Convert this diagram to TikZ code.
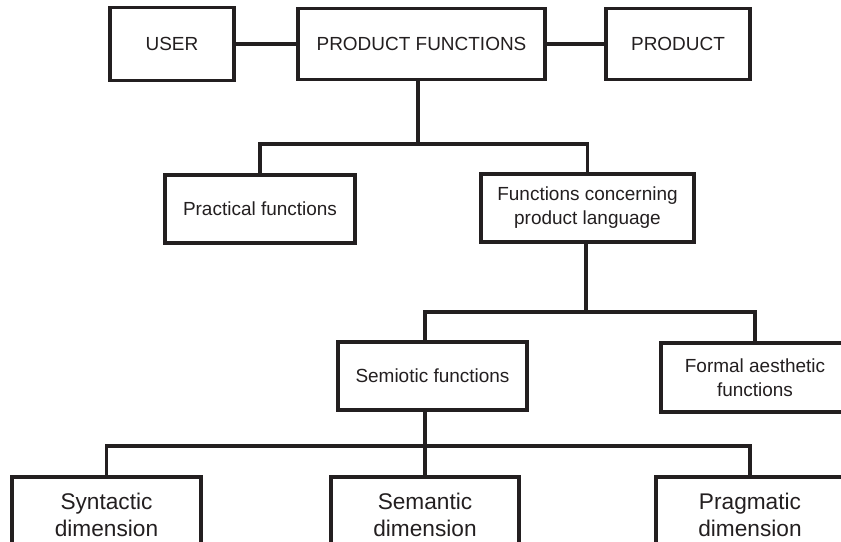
\documentclass[tikz,border=0pt]{standalone}
\usepackage{fontspec}
\setmainfont{Liberation Sans}
\usepackage{xcolor}
\usepackage{tikz}
\usetikzlibrary{positioning}

\definecolor{ink}{HTML}{231F20}

\begin{document}
\begin{tikzpicture}[
            x=0.02cm, y=-0.02cm,
            box/.style={rectangle, draw=ink, line width=1.75pt, text=ink, align=center, inner sep=2pt,
                        font=\fontsize{10.8}{13.6}\selectfont},
            dimbox/.style={box, font=\fontsize{12.9}{15.3}\selectfont},
            link/.style={draw=ink, line width=1.75pt}
        ]

        \clip (0,0) rectangle (841,541);
        \fill[white] (0,0) rectangle (841,541);

        \node[box, minimum width=2.48cm, minimum height=1.46cm] (user) at (172,44) {USER};
        \node[box, minimum width=4.94cm, minimum height=1.42cm] (pf) at (421.5,44) {PRODUCT FUNCTIONS};
        \node[box, minimum width=2.88cm, minimum height=1.42cm] (product) at (678,44) {PRODUCT};

        \node[box, minimum width=3.8cm, minimum height=1.36cm] (practical) at (260,209) {Practical functions};
        \node[box, minimum width=4.26cm, minimum height=1.36cm] (language) at (587.5,208) {Functions concerning\\product language};

        \node[box, minimum width=3.78cm, minimum height=1.36cm] (semiotic) at (432.5,376) {Semiotic functions};
        \node[box, minimum width=3.76cm, minimum height=1.38cm] (formal) at (755,377.5) {Formal aesthetic\\functions};

        \node[dimbox, minimum width=3.78cm, minimum height=1.52cm] (syntactic) at (106.5,515) {Syntactic\\dimension};
        \node[dimbox, minimum width=3.76cm, minimum height=1.52cm] (semantic) at (425,515) {Semantic\\dimension};
        \node[dimbox, minimum width=3.76cm, minimum height=1.52cm] (pragmatic) at (750,515) {Pragmatic\\dimension};

        % bars of the tree
        \coordinate (bar1) at (418,144);
        \coordinate (bar2) at (586,312);
        \coordinate (bar3) at (425,446);

        \draw[link] (user) -- (pf);
        \draw[link] (pf) -- (product);

        \draw[link] (pf.south -| bar1) -- (bar1);
        \draw[link] (practical.north) |- (bar1) -| (language.north);

        \draw[link] (language.south -| bar2) -- (bar2);
        \draw[link] (semiotic.north -| bar3) |- (bar2) -| (formal.north);

        \draw[link] (semiotic.south -| bar3) -- (semantic.north);
        \draw[link] (syntactic.north) |- (bar3) -| (pragmatic.north);

    \end{tikzpicture}
\end{document}
